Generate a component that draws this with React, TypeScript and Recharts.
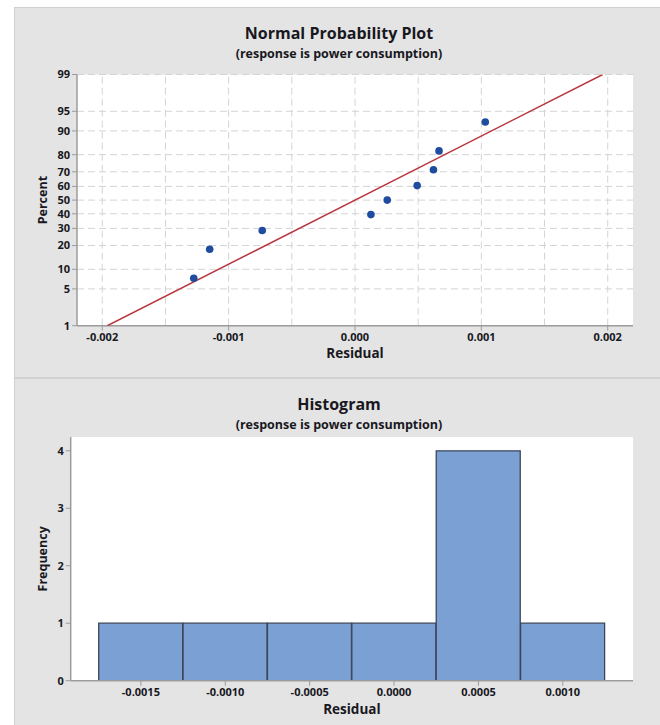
import React from 'react';
import {
  ScatterChart,
  Scatter,
  XAxis,
  YAxis,
  CartesianGrid,
  ReferenceLine,
  BarChart,
  Bar,
} from 'recharts';

// ---------- data ----------
const residuals = [-0.001276, -0.00115, -0.000734, 0.000126, 0.000255, 0.000492, 0.000621, 0.000665, 0.001031];
const percents = [7.4, 18.1, 28.7, 39.4, 50, 60.6, 71.3, 81.9, 92.6];
const fitResidual = [-0.00196, 0.00196];
const fitPercent = [1, 99];
const percentTicks = [1, 5, 10, 20, 30, 40, 50, 60, 70, 80, 90, 95, 99];
const residualTicks = [-0.002, -0.001, 0, 0.001, 0.002];
const residualGrid = [-0.002, -0.0015, -0.001, -0.0005, 0, 0.0005, 0.001, 0.0015, 0.002];
const residualDomain = [-0.0022, 0.0022];

const binMids = [-0.0015, -0.001, -0.0005, 0, 0.0005, 0.001];
const binCounts = [1, 1, 1, 1, 4, 1];
const freqTicks = [0, 1, 2, 3, 4];
const freqDomain = [0, 4.24];

// ---------- normal probability scale (inverse normal CDF) ----------
function probit(p: number): number {
  const a = [-3.969683028665376e1, 2.209460984245205e2, -2.759285104469687e2, 1.38357751867269e2, -3.066479806614716e1, 2.506628277459239];
  const b = [-5.447609879822406e1, 1.615858368580409e2, -1.556989798598866e2, 6.680131188771972e1, -1.328068155288572e1];
  const c = [-7.784894002430293e-3, -3.223964580411365e-1, -2.400758277161838, -2.549732539343734, 4.374664141464968, 2.938163982698783];
  const d = [7.784695709041462e-3, 3.224671290700398e-1, 2.445134137142996, 3.754408661907416];
  const plow = 0.02425;
  const phigh = 1 - plow;
  if (p < plow) {
    const q = Math.sqrt(-2 * Math.log(p));
    return (((((c[0] * q + c[1]) * q + c[2]) * q + c[3]) * q + c[4]) * q + c[5]) / ((((d[0] * q + d[1]) * q + d[2]) * q + d[3]) * q + 1);
  }
  if (p <= phigh) {
    const q = p - 0.5;
    const r = q * q;
    return ((((((a[0] * r + a[1]) * r + a[2]) * r + a[3]) * r + a[4]) * r + a[5]) * q) / (((((b[0] * r + b[1]) * r + b[2]) * r + b[3]) * r + b[4]) * r + 1);
  }
  const q = Math.sqrt(-2 * Math.log(1 - p));
  return -(((((c[0] * q + c[1]) * q + c[2]) * q + c[3]) * q + c[4]) * q + c[5]) / ((((d[0] * q + d[1]) * q + d[2]) * q + d[3]) * q + 1);
}

const z = (pct: number) => probit(pct / 100);
const zTicks = percentTicks.map(z);
const zDomain = [z(1), z(99)];

const pointData = residuals.map((r, i) => ({ x: r, y: z(percents[i]) }));
const fitData = fitResidual.map((r, i) => ({ x: r, y: z(fitPercent[i]) }));
const histData = binMids.map((m, i) => ({ mid: m, count: binCounts[i] }));

// ---------- styles ----------
const FONT = "'Open Sans', 'DejaVu Sans', sans-serif";
const TEXT = '#18181e';
const AXIS = '#9c9c9c';
const GRID = '#d4d4d4';
const PANEL = '#e4e4e4';

const tickStyle = { fontSize: 11, fontWeight: 700, fill: TEXT, fontFamily: FONT };
const labelStyle = { fontSize: 13.5, fontWeight: 700, fill: TEXT, fontFamily: FONT };

const titleStyle: React.CSSProperties = {
  position: 'absolute',
  left: 14,
  width: 646,
  paddingLeft: 4,
  boxSizing: 'border-box',
  textAlign: 'center',
  fontFamily: FONT,
  fontWeight: 700,
  color: TEXT,
  whiteSpace: 'nowrap',
};

const Dot = (props: any) => <circle cx={props.cx} cy={props.cy} r={3.8} fill="#1f4c9e" />;
const NoShape = () => <g />;

export default function App() {
  return (
    <div style={{ position: 'absolute', left: 0, top: 0, width: 660, height: 725, background: '#ffffff', overflow: 'hidden' }}>
      {/* panels */}
      <div
        style={{
          position: 'absolute', left: 14, top: 7, width: 646, height: 370, background: PANEL,
          borderTop: '1px solid #d0d0d0', borderLeft: '1px solid #d0d0d0', boxSizing: 'border-box',
        }}
      />
      <div
        style={{
          position: 'absolute', left: 14, top: 377, width: 646, height: 348, background: PANEL,
          borderTop: '2px solid #d2d2d2', borderLeft: '1px solid #d0d0d0', boxSizing: 'border-box',
        }}
      />

      {/* titles */}
      <div style={{ ...titleStyle, top: 22, fontSize: 16, lineHeight: '22px' }}>Normal Probability Plot</div>
      <div style={{ ...titleStyle, top: 45, fontSize: 12.5, lineHeight: '18px' }}>(response is power consumption)</div>
      <div style={{ ...titleStyle, top: 393, fontSize: 16, lineHeight: '22px' }}>Histogram</div>
      <div style={{ ...titleStyle, top: 416, fontSize: 12.5, lineHeight: '18px' }}>(response is power consumption)</div>

      {/* normal probability plot */}
      <div style={{ position: 'absolute', left: 14, top: 7 }}>
        <ScatterChart width={646} height={370} margin={{ top: 67.5, right: 27, bottom: 11.3, left: 0 }}>
          <CartesianGrid fill="#ffffff" vertical={false} stroke={GRID} strokeDasharray="7 4" />
          {residualGrid.map((v) => (
            <ReferenceLine key={v} x={v} stroke={GRID} strokeDasharray="7 4" />
          ))}
          <XAxis
            type="number"
            dataKey="x"
            domain={residualDomain}
            ticks={residualTicks}
            allowDataOverflow
            tickFormatter={(v: number) => v.toFixed(3)}
            height={40}
            tick={tickStyle}
            tickSize={5}
            tickLine={{ stroke: AXIS }}
            axisLine={{ stroke: AXIS, strokeWidth: 1.5 }}
            label={{ value: 'Residual', position: 'insideBottom', offset: 8, style: labelStyle }}
          />
          <XAxis
            xAxisId="top"
            orientation="top"
            type="number"
            domain={residualDomain}
            height={0}
            tick={false}
            tickLine={false}
            axisLine={{ stroke: AXIS, strokeWidth: 1.5 }}
          />
          <YAxis
            type="number"
            dataKey="y"
            domain={zDomain}
            ticks={zTicks}
            allowDataOverflow
            interval={0}
            tickFormatter={(v: number) => {
              const i = zTicks.findIndex((t) => Math.abs(t - v) < 1e-9);
              return i >= 0 ? String(percentTicks[i]) : '';
            }}
            width={63}
            tick={tickStyle}
            tickSize={5}
            tickLine={{ stroke: AXIS }}
            axisLine={{ stroke: AXIS, strokeWidth: 1.5 }}
            label={{
              value: 'Percent', angle: -90, position: 'insideLeft', offset: 29,
              style: { ...labelStyle, fontSize: 12.5, textAnchor: 'middle' },
            }}
          />
          <YAxis
            yAxisId="right"
            orientation="right"
            type="number"
            domain={zDomain}
            width={0}
            tick={false}
            tickLine={false}
            axisLine={{ stroke: AXIS, strokeWidth: 1.5 }}
          />
          <Scatter
            data={fitData}
            line={{ stroke: '#b8333b', strokeWidth: 1.5 }}
            shape={NoShape}
            isAnimationActive={false}
          />
          <Scatter data={pointData} shape={Dot} isAnimationActive={false} />
        </ScatterChart>
      </div>

      {/* histogram */}
      <div style={{ position: 'absolute', left: 14, top: 378 }}>
        <BarChart
          width={646}
          height={347}
          data={histData}
          margin={{ top: 59, right: 27, bottom: 8.3, left: 0 }}
          barCategoryGap={0}
        >
          <CartesianGrid fill="#ffffff" horizontal={false} vertical={false} />
          <XAxis
            dataKey="mid"
            type="category"
            padding={{ left: 28, right: 28 }}
            tickFormatter={(v: number) => v.toFixed(4)}
            height={36}
            interval={0}
            tick={tickStyle}
            tickSize={5}
            tickLine={{ stroke: AXIS }}
            axisLine={{ stroke: AXIS, strokeWidth: 1.5 }}
            label={{ value: 'Residual', position: 'insideBottom', offset: 3, style: labelStyle }}
          />
          <XAxis
            xAxisId="top"
            orientation="top"
            dataKey="mid"
            type="category"
            padding={{ left: 28, right: 28 }}
            height={0}
            tick={false}
            tickLine={false}
            axisLine={{ stroke: AXIS, strokeWidth: 1.5 }}
          />
          <YAxis
            type="number"
            domain={freqDomain}
            ticks={freqTicks}
            allowDataOverflow
            interval={0}
            width={56.7}
            tick={tickStyle}
            tickSize={5}
            tickLine={{ stroke: AXIS }}
            axisLine={{ stroke: AXIS, strokeWidth: 1.5 }}
            label={{
              value: 'Frequency', angle: -90, position: 'insideLeft', offset: 29,
              style: { ...labelStyle, fontSize: 12.5, textAnchor: 'middle' },
            }}
          />
          <YAxis
            yAxisId="right"
            orientation="right"
            type="number"
            domain={freqDomain}
            width={0}
            tick={false}
            tickLine={false}
            axisLine={{ stroke: AXIS, strokeWidth: 1.5 }}
          />
          <Bar dataKey="count" fill="#7ba1d4" stroke="#3b4658" strokeWidth={1.3} isAnimationActive={false} />
        </BarChart>
      </div>
    </div>
  );
}
